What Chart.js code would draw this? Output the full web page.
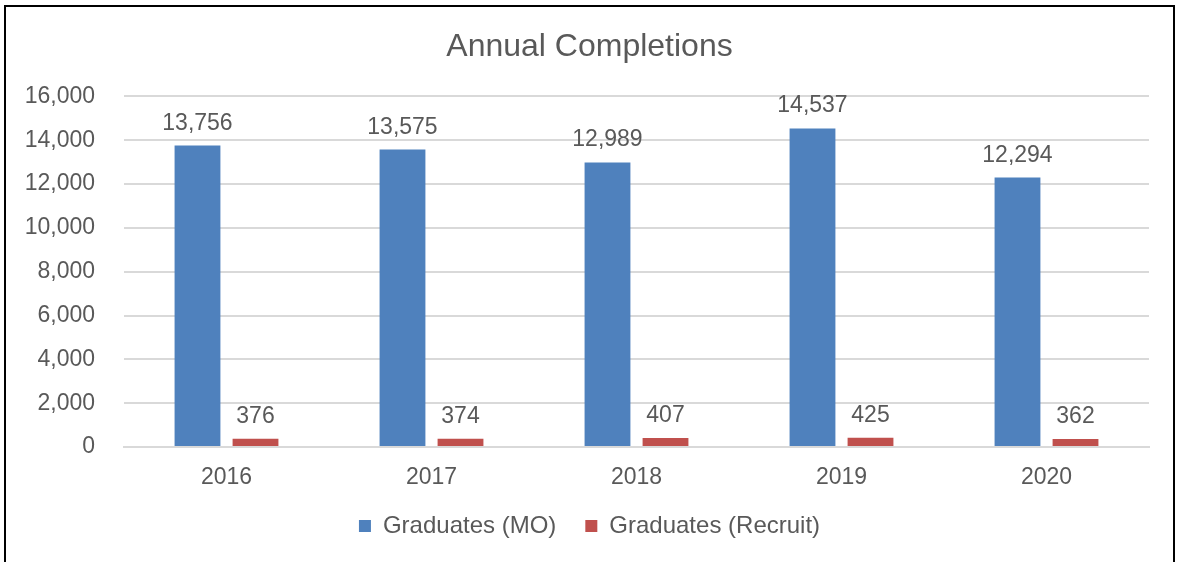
<!DOCTYPE html>
<html>
<head>
<meta charset="utf-8">
<script src="https://cdn.jsdelivr.net/npm/chart.js@4"></script>
<style>
  html, body { margin: 0; padding: 0; background: #fff; overflow: hidden; }
  #wrap { position: relative; width: 1179px; height: 562px; }
  #grafik { position: absolute; left: 0; top: 0; }
  #bingkai {
    position: absolute; left: 4px; top: 5px; width: 1171px; height: 620px;
    border: 2px solid #000; box-sizing: border-box; pointer-events: none;
  }
</style>
</head>
<body>
<div id="wrap">
  <canvas id="grafik" width="1179" height="562"></canvas>
  <div id="bingkai"></div>
</div>
<script>
// data dibaca dari gambar rujukan
const tahun = ['2016', '2017', '2018', '2019', '2020'];
const graduatesMO = [13756, 13575, 12989, 14537, 12294];
const graduatesRecruit = [376, 374, 407, 425, 362];
const namaSiri = ['Graduates (MO)', 'Graduates (Recruit)'];
const yMin = 0;
const yMax = 16000;
const yStep = 2000;

const warnaTeks = '#595959';
const fontUtama = 'Liberation Sans, Arial, sans-serif';

const fmt = v => Number(v).toLocaleString('en-US');

// label nilai di atas setiap bar
const labelNilai = {
  id: 'labelNilai',
  afterDatasetsDraw(chart) {
    const c = chart.ctx;
    c.save();
    c.font = `23px ${fontUtama}`;
    c.fillStyle = warnaTeks;
    c.textAlign = 'center';
    c.textBaseline = 'alphabetic';
    chart.data.datasets.forEach((ds, i) => {
      chart.getDatasetMeta(i).data.forEach((bar, j) => {
        c.fillText(fmt(ds.data[j]), bar.x, bar.y - 16);
      });
    });
    c.restore();
  }
};

const ctx = document.getElementById('grafik').getContext('2d');

new Chart(ctx, {
  type: 'bar',
  data: {
    labels: tahun,
    datasets: [
      {
        label: namaSiri[0],
        data: graduatesMO,
        backgroundColor: '#4F81BD',
        categoryPercentage: 0.566,
        barPercentage: 0.79,
      },
      {
        label: namaSiri[1],
        data: graduatesRecruit,
        backgroundColor: '#C0504D',
        categoryPercentage: 0.566,
        barPercentage: 0.79,
      }
    ]
  },
  options: {
    responsive: false,
    animation: false,
    devicePixelRatio: 1,
    layout: {
      padding: { left: 0, right: 0, top: 0, bottom: 14 }
    },
    scales: {
      x: {
        grid: { display: false, drawTicks: false },
        border: { display: true, color: '#D9D9D9', width: 2 },
        ticks: {
          color: warnaTeks,
          font: { family: fontUtama, size: 23 },
          padding: 17
        },
        afterFit(scale) { scale.height = 38; }
      },
      y: {
        min: yMin,
        max: yMax,
        grid: { color: '#D9D9D9', lineWidth: 2, drawTicks: false },
        border: { display: false },
        ticks: {
          stepSize: yStep,
          color: warnaTeks,
          padding: 29,
          font: { family: fontUtama, size: 23 },
          callback: v => fmt(v)
        },
        afterFit(scale) { scale.width = 124; }
      },
      // sumbu kanan kosong, hanya untuk ruang di kanan plot
      ruangKanan: {
        type: 'linear',
        position: 'right',
        grid: { display: false, drawTicks: false },
        border: { display: false },
        ticks: { display: false },
        afterFit(scale) { scale.width = 30; }
      }
    },
    plugins: {
      title: {
        display: true,
        text: 'Annual Completions',
        color: warnaTeks,
        font: { family: fontUtama, size: 32, weight: 'normal' },
        padding: { top: 28, bottom: 30 }
      },
      legend: {
        display: true,
        position: 'bottom',
        labels: {
          color: warnaTeks,
          font: { family: fontUtama, size: 24 },
          boxWidth: 12,
          boxHeight: 12,
          padding: 29
        }
      },
      tooltip: { enabled: false }
    }
  },
  plugins: [labelNilai]
});
</script>
</body>
</html>
